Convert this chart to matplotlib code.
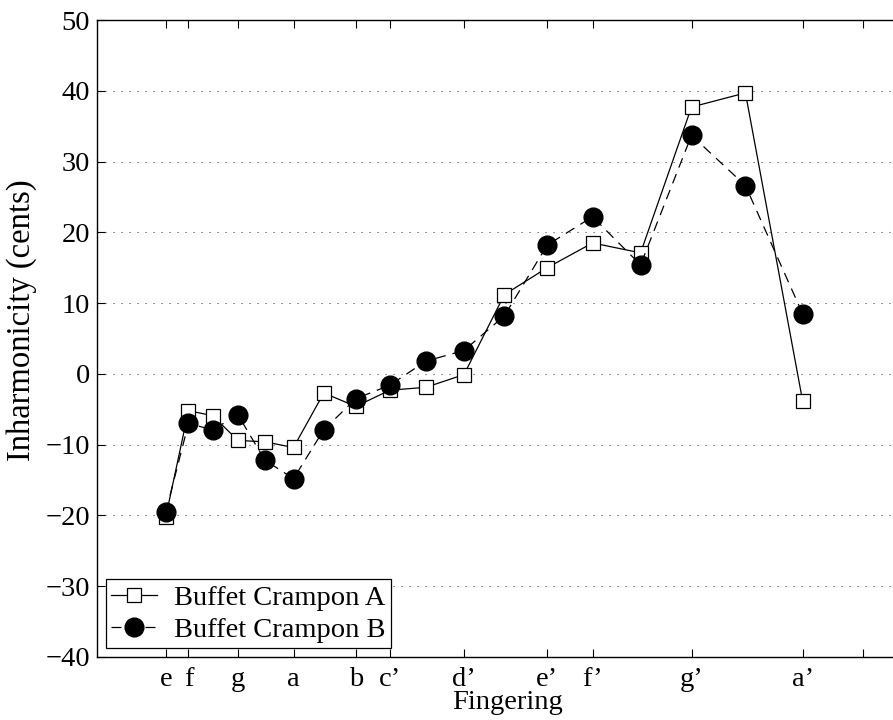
import matplotlib.pyplot as plt

# chromatic notes e .. a' (Hz) used as x positions
freq = [164.81, 174.61, 185.00, 196.00, 207.65, 220.00, 233.08, 246.94, 261.63,
        277.18, 293.66, 311.13, 329.63, 349.23, 369.99, 392.00, 415.30, 440.00]

buffet_a = [-20.2, -5.2, -5.9, -9.4, -9.6, -10.4, -2.7, -4.6, -2.3,
            -1.9, -0.1, 11.2, 15.0, 18.5, 17.1, 37.7, 39.7, -3.8]
buffet_b = [-19.5, -7.0, -7.9, -5.8, -12.2, -14.8, -7.9, -3.5, -1.6,
            1.8, 3.3, 8.2, 18.2, 22.2, 15.4, 33.7, 26.6, 8.5]

tick_freq = [164.81, 174.61, 196.00, 220.00, 246.94, 261.63, 293.66,
             329.63, 349.23, 392.00, 440.00, 466.16]
tick_names = ["e", "f", "g", "a", "b", "c\u2019", "d\u2019", "e\u2019", "f\u2019",
              "g\u2019", "a\u2019", ""]

plt.rcParams["font.family"] = ["Liberation Serif", "DejaVu Serif"]
plt.rcParams["axes.unicode_minus"] = True

fig = plt.figure(figsize=(8.93, 7.2), dpi=100)
ax = fig.add_axes([97 / 893, 63 / 720, 821.3 / 893, 637 / 720])

ax.plot(freq, buffet_a, "-", color="black", lw=0.9, marker="s", ms=10.5,
        mfc="white", mec="black", mew=0.9, label="Buffet Crampon A")
ax.plot(freq, buffet_b, color="black", lw=0.9, ls=(0, (8, 5.6)), marker="o", ms=13.5,
        mfc="black", mec="black", label="Buffet Crampon B")

ax.set_xlim(135.08, 490)
ax.set_ylim(-40, 50)
ax.set_yticks(range(-40, 51, 10))
ax.set_xticks(tick_freq)
ax.set_xticklabels(tick_names)
ax.tick_params(direction="in", labelsize=20.5, length=6, width=0.8,
               top=True, right=False, pad=5)
ax.tick_params(axis="x", pad=7)
ax.yaxis.grid(True, linestyle=(0, (1, 6.2)), color="0.3", lw=0.8)
for s in ax.spines.values():
    s.set_linewidth(1.0)

ax.set_xlabel("Fingering", fontsize=20.5, labelpad=-1)
ax.set_ylabel("Inharmonicity (cents)", fontsize=23.5)
ax.yaxis.set_label_coords(-0.073, 0.529)

leg = ax.legend(loc="lower left", fontsize=20.5, frameon=True, fancybox=False,
                edgecolor="black", framealpha=1, borderaxespad=0.3,
                handlelength=1.6, handletextpad=0.6, borderpad=0.2,
                labelspacing=0.22)
leg.get_frame().set_linewidth(0.9)

fig.savefig("out.png", dpi=100)
